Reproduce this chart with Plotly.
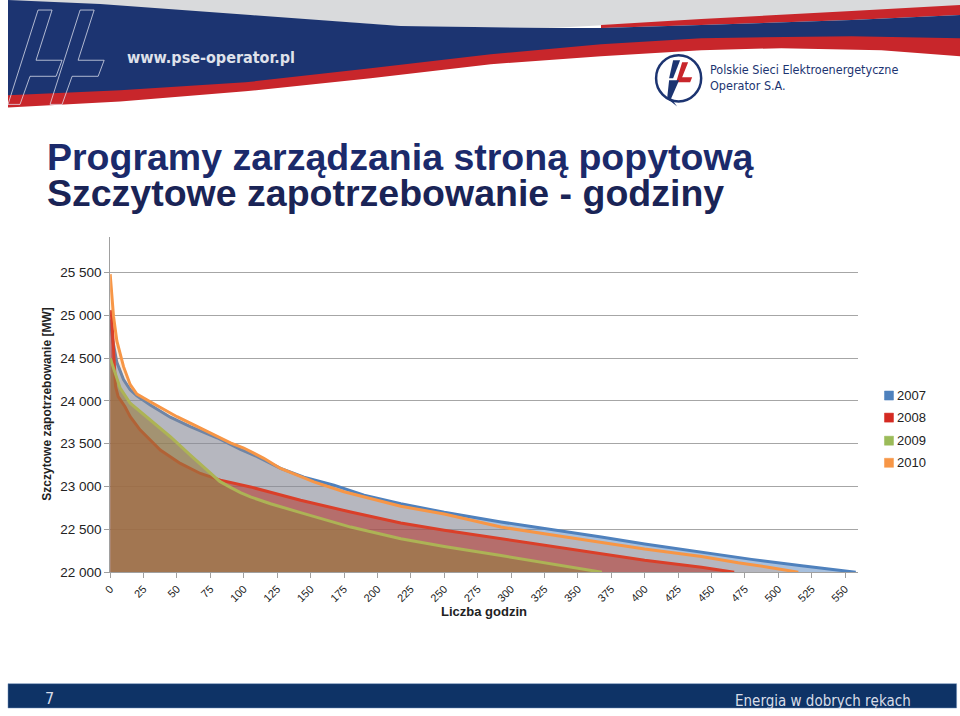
import plotly.graph_objects as go

W, H = 960, 716

# ---------------- data ----------------
hours_2007 = [0, 2, 5, 7.5, 10, 15, 20, 30, 45, 60, 80, 97.5, 110, 127.5, 145, 167.5, 190, 217.5, 250, 292.5, 330, 367.5, 400, 442.5, 480, 517.5, 540, 558]
mw_2007 = [24950, 24700, 24450, 24344, 24250, 24130, 24060, 23953, 23810, 23700, 23570, 23434, 23350, 23212, 23110, 23016, 22900, 22800, 22700, 22586, 22500, 22410, 22330, 22235, 22150, 22075, 22030, 22000]

hours_2008 = [0, 1, 2, 4, 6, 11, 15, 22.5, 37.5, 52.5, 67.5, 82.5, 105, 142.5, 180, 217.5, 250, 292.5, 330, 367.5, 400, 442.5, 467]
mw_2008 = [25060, 24990, 24754, 24170, 24050, 23935, 23816, 23660, 23426, 23270, 23153, 23075, 22996, 22840, 22703, 22575, 22490, 22391, 22300, 22215, 22140, 22059, 22000]

hours_2009 = [0, 2, 5, 7.5, 15, 30, 45, 60, 75, 82, 90, 97.5, 105, 120, 142.5, 180, 217.5, 250, 292.5, 330, 368]
mw_2009 = [24500, 24400, 24250, 24149, 23973, 23777, 23582, 23368, 23153, 23060, 22990, 22930, 22880, 22800, 22695, 22527, 22391, 22300, 22195, 22100, 22000]

hours_2010 = [0, 1, 2.5, 5, 7.5, 10, 15, 20, 30, 40, 50, 60, 75, 90, 100, 115, 127.5, 140, 152.5, 175, 200, 217.5, 250, 292.5, 325, 367.5, 400, 442.5, 470, 492.5, 515]
mw_2010 = [25480, 25250, 24990, 24700, 24560, 24400, 24190, 24080, 23990, 23900, 23816, 23740, 23622, 23510, 23450, 23330, 23212, 23130, 23055, 22940, 22840, 22770, 22680, 22527, 22450, 22352, 22270, 22184, 22110, 22059, 22000]

series_names = ["2007", "2008", "2009", "2010"]
y_tick_vals = [22000, 22500, 23000, 23500, 24000, 24500, 25000, 25500]
y_tick_text = ["22 000", "22 500", "23 000", "23 500", "24 000", "24 500", "25 000", "25 500"]
x_tick_vals = list(range(0, 551, 25))
x_tick_text = [str(v) for v in x_tick_vals]

# ---------------- styles ----------------
line_colors = ["#4F81BD", "#D42A22", "#9BBB59", "#F79646"]
fill_colors = ["rgba(79,129,189,0.5)", "rgba(165,40,48,0.6)", "rgba(127,117,62,0.6)", "rgba(247,150,70,0.2)"]


# page-pixel helpers (small empirical correction for the rendered frame)
def X(x):
    return max(0.0, (x - 8) / 0.99)


def Y(y):
    return max(0.0, (y - 2) / 0.985)


def px(x):
    return min(1.0, X(x) / W)


def py(y):
    return max(0.0, 1 - Y(y) / H)


def path(points, close=True):
    s = "M " + " L ".join(f"{px(x):.5f},{py(y):.5f}" for x, y in points)
    return s + (" Z" if close else "")


fig = go.Figure()

all_x = [hours_2007, hours_2008, hours_2009, hours_2010]
all_y = [mw_2007, mw_2008, mw_2009, mw_2010]
for name, xs, ys, lc, fc in zip(series_names, all_x, all_y, line_colors, fill_colors):
    fig.add_trace(go.Scatter(
        x=xs, y=ys, name=name, mode="lines", fill="tozeroy", fillcolor=fc,
        line=dict(color=lc, width=3), showlegend=False, hoverinfo="skip"))

FONT = "Liberation Sans, Arial, sans-serif"
COND = "DejaVu Sans Condensed, DejaVu Sans, sans-serif"

shapes = []
annotations = []

# ---------------- header banner ----------------
shapes.append(dict(type="path", xref="paper", yref="paper", layer="below",
                   path=path([(5, 0), (960, 0), (960, 8), (850, 14), (700, 22), (550, 30), (400, 28), (250, 18), (100, 8), (5, 3)]),
                   fillcolor="#d9dadc", line=dict(width=0)))
shapes.append(dict(type="path", xref="paper", yref="paper", layer="below",
                   path=path([(600, 27), (700, 21), (850, 13), (960, 7), (960, 17), (850, 22), (700, 27), (600, 30)]),
                   fillcolor="#c8262b", line=dict(width=0)))
shapes.append(dict(type="path", xref="paper", yref="paper", layer="below",
                   path=path([(5, 92), (120, 88), (245, 80), (370, 67), (490, 52), (600, 42), (700, 37), (850, 35), (960, 37),
                              (960, 58), (880, 52), (780, 50), (700, 52), (600, 58), (490, 66), (370, 80), (245, 93), (120, 103), (5, 109)]),
                   fillcolor="#c8262b", line=dict(width=0)))
shapes.append(dict(type="path", xref="paper", yref="paper", layer="below",
                   path=path([(5, 0), (100, 6), (250, 17), (400, 28), (550, 30), (600, 30), (700, 27), (850, 22), (960, 17),
                              (960, 40), (850, 38), (700, 40), (600, 46), (490, 56), (370, 70), (245, 84), (120, 92), (5, 97)]),
                   fillcolor="#1c3471", line=dict(width=0)))
for dx in (0, 42):
    shapes.append(dict(type="path", xref="paper", yref="paper", layer="below",
                       path=path([(38 + dx, 12), (52 + dx, 12), (36 + dx, 62), (62 + dx, 62), (56 + dx, 78),
                                  (30 + dx, 78), (20 + dx, 106), (8 + dx, 106)]),
                       fillcolor="rgba(0,0,0,0)", line=dict(color="rgba(225,228,240,0.75)", width=1)))
annotations.append(dict(x=px(125), y=py(59), xref="paper", yref="paper", xanchor="left", yanchor="middle",
                        text="<b>www.pse-operator.pl</b>", showarrow=False,
                        font=dict(family=COND, size=16, color="#dfe1ea")))
shapes.append(dict(type="circle", xref="paper", yref="paper", x0=px(655), x1=px(700), y0=py(57), y1=py(103),
                   line=dict(color="#1c3471", width=2.5), fillcolor="white"))
shapes.append(dict(type="path", xref="paper", yref="paper",
                   path=path([(672, 62), (679, 62), (672, 80), (668, 80)]), fillcolor="#1c3471", line=dict(width=0)))
shapes.append(dict(type="path", xref="paper", yref="paper",
                   path=path([(681, 64), (687, 64), (681, 79), (691, 79), (689, 84), (675, 84)]), fillcolor="#c8262b", line=dict(width=0)))
shapes.append(dict(type="path", xref="paper", yref="paper",
                   path=path([(668, 82), (678, 82), (670, 100), (676, 108), (666, 100)]), fillcolor="#1c3471", line=dict(width=0)))
annotations.append(dict(x=px(707), y=py(71), xref="paper", yref="paper", xanchor="left", yanchor="middle",
                        text="Polskie Sieci Elektroenergetyczne", showarrow=False,
                        font=dict(family=COND, size=12.5, color="#1c3471")))
annotations.append(dict(x=px(707), y=py(87), xref="paper", yref="paper", xanchor="left", yanchor="middle",
                        text="Operator S.A.", showarrow=False,
                        font=dict(family=COND, size=12.5, color="#1c3471")))

# ---------------- slide title ----------------
annotations.append(dict(x=px(45), y=py(158), xref="paper", yref="paper", xanchor="left", yanchor="middle",
                        text="<b>Programy zarządzania stroną popytową</b>", showarrow=False,
                        font=dict(family=FONT, size=37.5, color="#1b2a6b")))
annotations.append(dict(x=px(45), y=py(194), xref="paper", yref="paper", xanchor="left", yanchor="middle",
                        text="<b>Szczytowe zapotrzebowanie - godziny</b>", showarrow=False,
                        font=dict(family=FONT, size=37.5, color="#1a2456")))

# ---------------- legend (manual) ----------------
leg_y = [396, 418, 441, 463]
for name, lc, yy in zip(series_names, line_colors, leg_y):
    shapes.append(dict(type="rect", xref="paper", yref="paper", x0=px(883), x1=px(892), y0=py(yy - 4.5), y1=py(yy + 4.5),
                       fillcolor=lc, line=dict(color=lc, width=0.5)))
    annotations.append(dict(x=px(894), y=py(yy), xref="paper", yref="paper", xanchor="left", yanchor="middle",
                            text=name, showarrow=False, font=dict(family=FONT, size=13, color="#222222")))

# ---------------- axis titles ----------------
annotations.append(dict(x=px(483), y=py(611), xref="paper", yref="paper", xanchor="center", yanchor="middle",
                        text="<b>Liczba godzin</b>", showarrow=False, font=dict(family=FONT, size=13, color="#222222")))
annotations.append(dict(x=px(47), y=py(405), xref="paper", yref="paper", xanchor="center", yanchor="middle",
                        text="<b>Szczytowe zapotrzebowanie [MW]</b>", textangle=-90, showarrow=False,
                        font=dict(family=FONT, size=12, color="#222222")))

# ---------------- footer ----------------
shapes.append(dict(type="rect", xref="paper", yref="paper", x0=px(5), x1=px(955), y0=py(714), y1=py(683),
                   fillcolor="#0e3366", line=dict(color="#6f8fb8", width=0.5)))
annotations.append(dict(x=px(49), y=py(698), xref="paper", yref="paper", xanchor="center", yanchor="middle",
                        text="7", showarrow=False, font=dict(family=COND, size=16, color="#d8dde8")))
annotations.append(dict(x=px(911), y=py(700), xref="paper", yref="paper", xanchor="right", yanchor="middle",
                        text="Energia w dobrych rękach", showarrow=False,
                        font=dict(family=COND, size=15, color="#d8dde8")))

fig.update_layout(
    width=W, height=H, margin=dict(l=0, r=0, t=0, b=0),
    paper_bgcolor="white", plot_bgcolor="white", showlegend=False,
    shapes=shapes, annotations=annotations,
    xaxis=dict(domain=[px(110), px(857)], range=[0, 560], tickvals=x_tick_vals, ticktext=x_tick_text,
               tickangle=-45, ticks="outside", ticklen=5, tickcolor="#a0a0a0", showgrid=False, zeroline=False,
               showline=True, linecolor="#a0a0a0", linewidth=1,
               tickfont=dict(family=FONT, size=11, color="#222222")),
    yaxis=dict(domain=[py(572), py(238)], range=[22000, 25915], tickvals=y_tick_vals, ticktext=y_tick_text,
               ticks="outside", ticklen=5, tickcolor="#a0a0a0", showgrid=True, gridcolor="#a6a6a6", gridwidth=1,
               zeroline=False, showline=True, linecolor="#a0a0a0", linewidth=1,
               tickfont=dict(family=FONT, size=13.5, color="#222222")),
)

fig.write_html("out.html", post_script="document.body.style.margin='0px';document.body.style.overflow='hidden';")
